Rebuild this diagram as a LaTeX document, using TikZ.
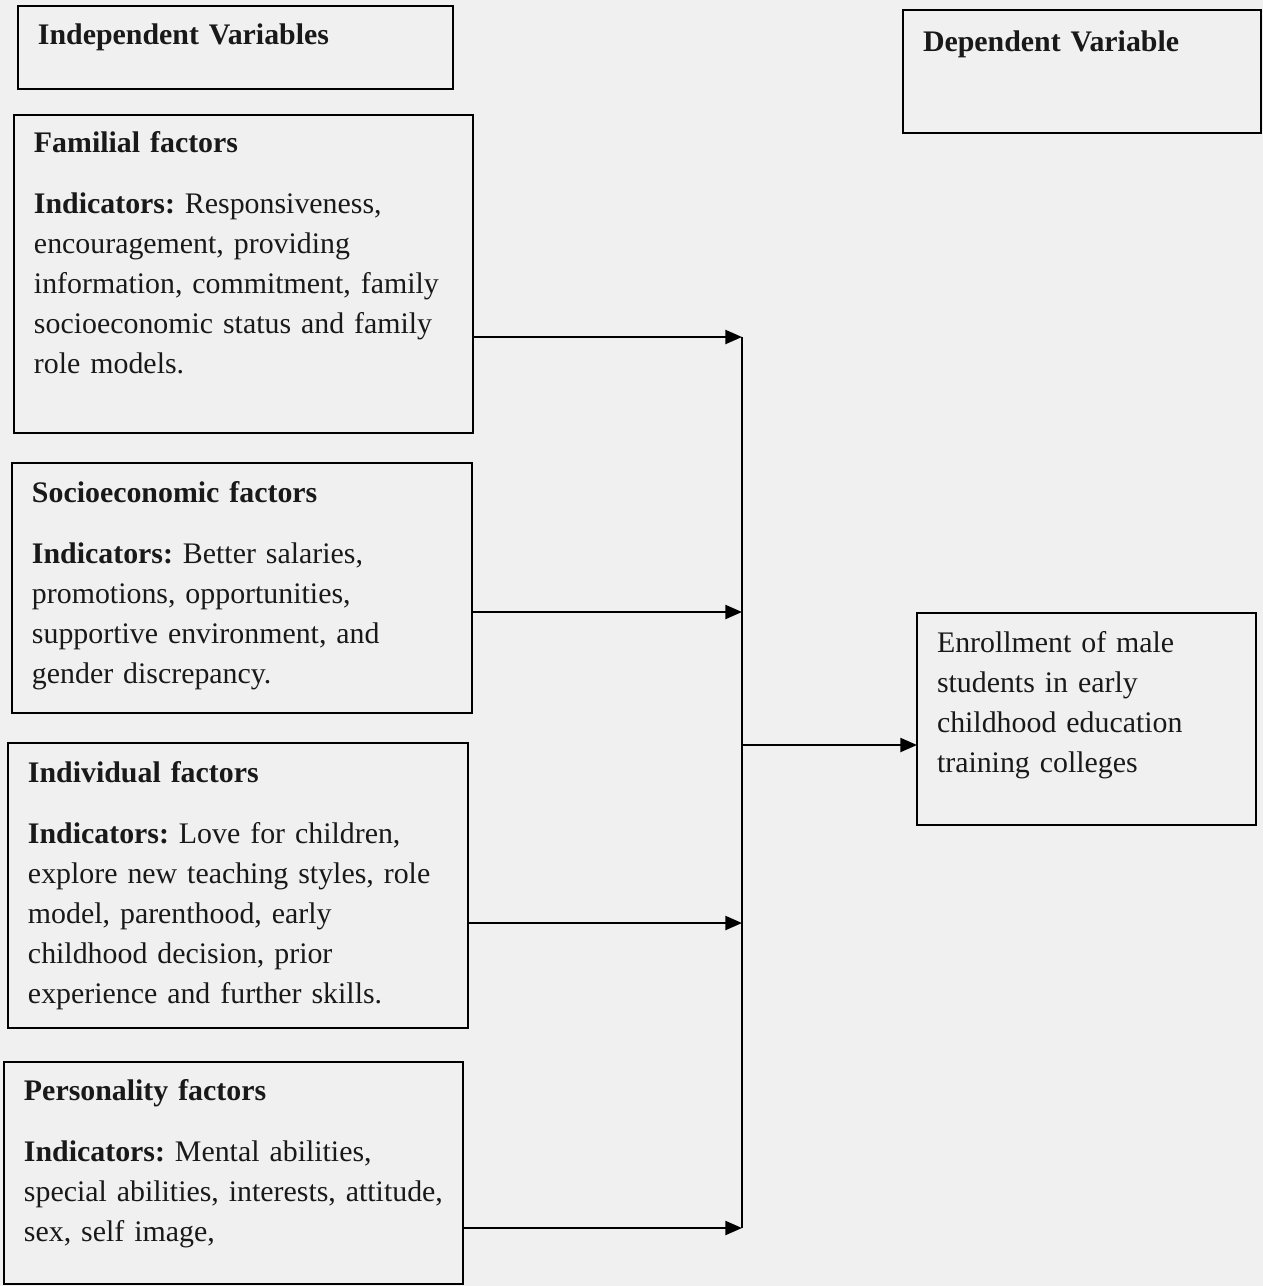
\documentclass[tikz,border=0pt]{standalone}
\usepackage{fontspec}
\setmainfont{Liberation Serif}
\usetikzlibrary{arrows.meta}

\begin{document}
\begin{tikzpicture}[x=0.02cm, y=-0.02cm,
    box/.style={draw, line width=1.2pt, anchor=north west, align=left,
        inner xsep=0.4cm, inner ysep=0pt, outer sep=0pt,
        font=\fontsize{17}{22.8}\selectfont\frenchspacing, text=black!90},
    link/.style={line width=1.2pt, -{Triangle[length=9.5pt,width=8pt]}}]
    % Page
    \fill[black!6] (0,0) rectangle (1263,1286);
    \useasboundingbox (0,0) rectangle (1263,1286);

    % Headings
    \node[box, text width=7.9cm, text height=0.78cm, text depth=0.88cm] (indep) at (18,6)
        {\textbf{Independent Variables}};
    \node[box, text width=6.36cm, text height=0.84cm, text depth=1.62cm] (dep) at (903,10)
        {\textbf{Dependent Variable}};

    % Independent variables
    \node[box, text width=8.38cm, text height=0.74cm, text depth=5.62cm] (familial) at (14,115)
        {\textbf{Familial factors}\\[12pt]
        \textbf{Indicators:} Responsiveness,\\
        encouragement, providing\\
        information, commitment, family\\
        socioeconomic status and family\\
        role models.};
    \node[box, text width=8.4cm, text height=0.78cm, text depth=4.22cm] (socio) at (12,463)
        {\textbf{Socioeconomic factors}\\[12pt]
        \textbf{Indicators:} Better salaries,\\
        promotions, opportunities,\\
        supportive environment, and\\
        gender discrepancy.};
    \node[box, text width=8.4cm, text height=0.78cm, text depth=4.92cm] (indiv) at (8,743)
        {\textbf{Individual factors}\\[12pt]
        \textbf{Indicators:} Love for children,\\
        explore new teaching styles, role\\
        model, parenthood, early\\
        childhood decision, prior\\
        experience and further skills.};
    \node[box, text width=8.38cm, text height=0.76cm, text depth=3.68cm] (person) at (4,1062)
        {\textbf{Personality factors}\\[12pt]
        \textbf{Indicators:} Mental abilities,\\
        special abilities, interests, attitude,\\
        sex, self image,};

    % Dependent variable
    \node[box, text width=5.98cm, text height=0.78cm, text depth=3.46cm] (enroll) at (917,613)
        {Enrollment of male\\
        students in early\\
        childhood education\\
        training colleges};

    % Links
    \coordinate (j1) at (742,337);
    \coordinate (j2) at (742,612);
    \coordinate (j3) at (742,923);
    \coordinate (j4) at (742,1228);
    \coordinate (jout) at (742,745);
    \draw[line width=1.2pt] (j1) -- (j4);
    \foreach \src/\dst in {familial/j1, socio/j2, indiv/j3, person/j4} {
        \draw[link] (\src.east |- \dst) -- (\dst);
    }
    \draw[link] (jout) -- (enroll.west |- jout);
\end{tikzpicture}
\end{document}
